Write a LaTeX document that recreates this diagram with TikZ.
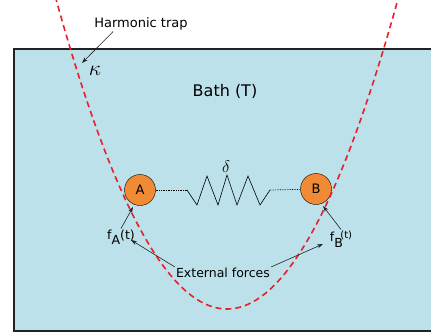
\documentclass[tikz,border=0pt]{standalone}
\usepackage{fontspec}
\setmainfont{DejaVu Sans}
\usepackage{tikz}
\usetikzlibrary{positioning, arrows.meta}
\definecolor{bathblue}{HTML}{BCE1EA}
\definecolor{beadorange}{HTML}{F08A35}
\definecolor{trapred}{HTML}{E8202A}
\definecolor{black90}{HTML}{222222}

\begin{document}
\begin{tikzpicture}[x=1pt, y=-1pt,
    bead/.style={circle, draw=black, fill=beadorange, minimum size=31pt, inner sep=0pt, font=\fontsize{13}{13}\selectfont},
    lbl/.style={font=\fontsize{13}{15}\selectfont, inner sep=1pt},
    trap/.style={trapred, line width=1.6pt, dash pattern=on 6pt off 4pt},
    pointer/.style={-{Stealth[length=6pt, width=4pt]}, draw=black90, line width=0.6pt},
]
    \useasboundingbox (0,0) rectangle (431,333);
    \clip (0,0) rectangle (431,333);

    % bath
    \draw[draw=black90, fill=bathblue, line width=2pt] (14,49) rectangle (440,331);
    \node[lbl, font=\fontsize{16}{18}\selectfont] (bath) at (225,91) {Bath (T)};

    % beads and spring
    \node[bead] (A) at (140,190) {A};
    \node[bead] (B) at (316,189) {B};
    \coordinate (s0) at (187,190);
    \coordinate (s1) at (270,190);
    \draw[densely dotted, line width=0.7pt] (A) -- (s0);
    \draw[line width=0.6pt] (s0) -- ++(10,15) -- ++(10,-29) -- ++(11,29) -- ++(9,-30)
        -- ++(10,30) -- ++(11,-29) -- ++(12,29) -- (s1);
    \draw[densely dotted, line width=0.7pt] (s1) -- (B);
    \node[lbl] (delta) at (226,167) {\scalebox{1.4}{$\delta$}};

    % harmonic trap
    \draw[trap] plot[domain=50:410, samples=90] (\x, {309-1.06*((\x-227)/10)^2});
    \node[lbl] (harm) at (141,24) {Harmonic trap};
    \node[lbl] (kappa) at (95,71) {\scalebox{1.8}{$\kappa$}};
    \coordinate (trapend) at (82,63);
    \draw[pointer] ([xshift=20pt]harm.south west) -- (trapend);

    % forces
    \node[lbl, font=\fontsize{12.5}{14}\selectfont] (fA) at (121,237) {f\raisebox{-5pt}{A}(t)};
    \node[lbl, font=\fontsize{12.5}{14}\selectfont] (fB) at (341,239) {f\raisebox{-6pt}{B}\hspace{-2.5pt}\raisebox{3pt}{\fontsize{10}{10}\selectfont(t)}};
    \node[lbl, font=\fontsize{12.5}{14}\selectfont] (ext) at (223,273) {External forces};
    \coordinate (fAend) at (133,207);
    \coordinate (fBend) at (323,206);
    \coordinate (extL) at (131,240);
    \coordinate (extR) at (323,244);
    \draw[pointer] (fA.north) -- (fAend);
    \draw[pointer] (fB.north) -- (fBend);
    \draw[pointer] (ext.north west) -- (extL);
    \draw[pointer] (ext.north east) -- (extR);
\end{tikzpicture}
\end{document}
